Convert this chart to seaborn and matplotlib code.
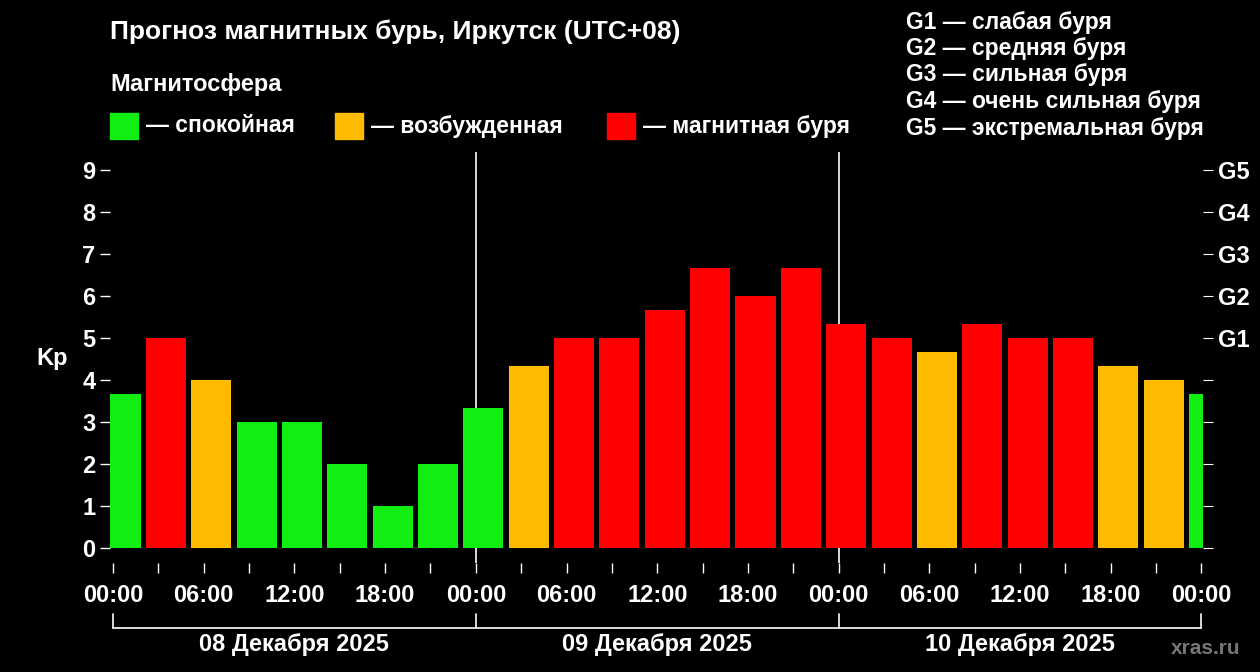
import matplotlib
matplotlib.use("Agg")
import matplotlib.pyplot as plt
import matplotlib.transforms as mtrans
from matplotlib.patches import Rectangle
import seaborn as sns
import pandas as pd

hours = [0.5 + 3 * i for i in range(25)]
kp = [3.67, 5, 4, 3, 3, 2, 1, 2, 3.33, 4.33, 5, 5, 5.67, 6.67, 6, 6.67,
      5.33, 5, 4.67, 5.33, 5, 5, 4.33, 4, 3.67]
tick_labels = ["00:00", "06:00", "12:00", "18:00"] * 3 + ["00:00"]
day_labels = ["08 Декабря 2025", "09 Декабря 2025", "10 Декабря 2025"]
g_labels = ["G1", "G2", "G3", "G4", "G5"]
g_text = ["G1 — слабая буря", "G2 — средняя буря", "G3 — сильная буря",
          "G4 — очень сильная буря", "G5 — экстремальная буря"]
legend_labels = ["— спокойная", "— возбужденная", "— магнитная буря"]
colors = {"q": "#11ee11", "a": "#ffbb00", "s": "#ff0000"}

def cat(v):
    return "q" if v < 4 else ("a" if v < 5 else "s")

df = pd.DataFrame({"h": hours, "kp": kp, "c": [cat(v) for v in kp]})

sns.set_style("dark")
plt.rcParams["font.family"] = ["Liberation Sans", "DejaVu Sans"]
plt.rcParams["font.weight"] = "bold"
W = "white"
FS = 17
fig = plt.figure(figsize=(12.6, 6.72), dpi=100, facecolor="black")
ax = fig.add_axes([110/1260, 1 - 563/672, 1093/1260, 411/672])
ax.set_facecolor("black")
for xv in (24, 48):
    ax.axvline(xv, color=W, lw=1.2, zorder=0)
sns.barplot(data=df, x="h", y="kp", hue="c", palette=colors, native_scale=True,
            width=40/45.3, dodge=False, legend=False, ax=ax, saturation=1,
            linewidth=0, zorder=2)
ax.set_xlim(-0.2, 72.1)
ax.set_ylim(-0.35, 9.43)
ax.grid(False)
for s in ax.spines.values():
    s.set_visible(False)
ax.set_yticks(range(10))
ax.set_yticklabels([str(i) for i in range(10)], fontsize=FS, fontweight="bold", color=W)
ax.set_xticks(range(0, 73, 6))
ax.set_xticklabels(tick_labels, fontsize=FS, fontweight="bold", color=W)
ax.set_xticks(range(0, 73, 3), minor=True)
ax.tick_params(axis="both", which="both", colors=W, length=7, direction="out", width=1,
               bottom=True, left=True)
ax.tick_params(axis="x", pad=8)
ax.set_xlabel(""); ax.set_ylabel("")
ax2 = ax.twinx()
ax2.set_ylim(ax.get_ylim())
ax2.set_yticks(range(10))
ax2.set_yticklabels([""] * 5 + g_labels, fontsize=FS, fontweight="bold", color=W)
ax2.tick_params(axis="y", colors=W, length=7, right=True)
for s in ax2.spines.values():
    s.set_visible(False)
fig.text(52/1260, 1 - 358/672, "Kp", ha="center", va="center",
         fontsize=FS, fontweight="bold", color=W)

tr = mtrans.blended_transform_factory(ax.transData, fig.transFigure)
yl = 1 - 628/672; yt = 1 - 614/672
ax.plot([0, 72], [yl, yl], transform=tr, color=W, lw=1.2, clip_on=False)
for xv in (0, 24, 48, 72):
    ax.plot([xv, xv], [yl, yt], transform=tr, color=W, lw=1.2, clip_on=False)
for i, d in enumerate(day_labels):
    ax.text(12 + 24 * i, 1 - 645/672, d, transform=tr, ha="center", va="center",
            fontsize=FS, fontweight="bold", color=W)
fig.text(1240/1260, 1 - 648/672, "xras.ru", ha="right", va="center", fontsize=15,
         color="#777777", fontweight="bold")

fig.text(110/1260, 1 - 32/672, "Прогноз магнитных бурь, Иркутск (UTC+08)",
         fontsize=19, fontweight="bold", color=W, va="center")
fig.text(110/1260, 1 - 85/672, "Магнитосфера", fontsize=FS, fontweight="bold",
         color=W, va="center")
for x0, lab, c in zip([110, 335, 607], legend_labels, ["q", "a", "s"]):
    fig.patches.append(Rectangle((x0/1260, 1 - 139/672), 28/1260, 26/672,
                                 transform=fig.transFigure, color=colors[c]))
    fig.text((x0 + 36)/1260, 1 - 126/672, lab, fontsize=16.5, fontweight="bold",
             color=W, va="center")
for i, t in enumerate(g_text):
    fig.text(906/1260, 1 - (22 + 26.5 * i)/672, t, fontsize=16.5, fontweight="bold",
             color=W, va="center")

fig.savefig("out.png", dpi=100, facecolor="black")
